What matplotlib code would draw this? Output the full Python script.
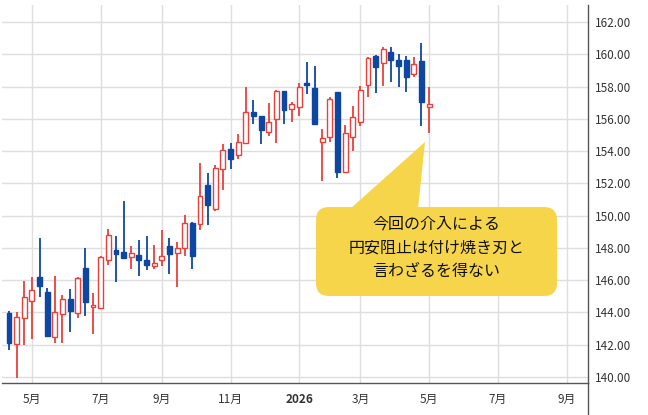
import matplotlib
matplotlib.use('Agg')
import matplotlib.pyplot as plt
from matplotlib.patches import FancyBboxPatch, Polygon
import numpy as np

plt.rcParams['font.family'] = ['Noto Sans CJK JP', 'DejaVu Sans']

# weekly USD/JPY candles (one per week)
opens = [143.94, 142.07, 143.63, 144.70, 146.22, 145.28, 142.49, 143.88, 144.83, 143.98,
         146.74, 144.31, 144.25, 147.24, 147.90, 147.77, 147.42, 147.53, 147.24, 146.87,
         147.22, 148.14, 147.66, 147.97, 149.54, 149.48, 151.90, 150.41, 152.90, 154.10,
         153.77, 154.49, 156.39, 156.18, 155.21, 155.98, 157.73, 156.60, 156.74, 158.19,
         157.88, 154.59, 154.90, 157.63, 152.71, 154.90, 155.77, 158.08, 159.90, 159.43,
         160.15, 159.65, 159.65, 158.76, 159.59, 156.76]
highs = [144.10, 144.04, 145.95, 146.18, 148.60, 145.49, 146.26, 145.08, 145.43, 146.22,
         147.98, 145.22, 147.50, 149.20, 148.72, 150.93, 148.10, 148.52, 148.76, 148.21,
         149.13, 148.62, 148.34, 150.04, 149.60, 153.27, 152.65, 153.15, 154.45, 154.51,
         155.05, 157.94, 157.15, 156.20, 156.95, 157.77, 157.75, 157.07, 158.19, 159.49,
         159.24, 155.36, 157.32, 157.65, 155.62, 156.80, 158.04, 159.80, 159.94, 160.42,
         160.42, 160.00, 159.86, 159.84, 160.69, 158.00]
lows = [141.66, 139.96, 141.97, 142.38, 144.93, 142.45, 142.13, 142.13, 142.80, 143.63,
        143.77, 142.69, 144.20, 146.93, 145.88, 147.34, 146.72, 146.25, 146.62, 146.72,
        146.87, 146.39, 145.55, 147.52, 146.69, 149.13, 149.42, 150.31, 151.61, 152.90,
        153.52, 154.49, 155.67, 154.43, 154.94, 154.47, 155.67, 155.77, 156.18, 157.52,
        155.60, 152.15, 154.57, 152.36, 152.67, 154.01, 155.56, 157.32, 157.57, 158.04,
        158.29, 157.94, 157.63, 158.62, 155.56, 155.09]
closes = [142.13, 143.69, 144.93, 145.39, 145.64, 142.55, 144.04, 144.81, 144.10, 146.16,
          144.66, 144.48, 147.44, 148.82, 147.64, 147.40, 147.69, 147.22, 146.93, 147.07,
          147.48, 147.63, 147.97, 149.54, 147.47, 151.22, 150.66, 152.98, 154.04, 153.48,
          154.55, 156.39, 156.18, 155.29, 155.81, 157.73, 156.53, 156.90, 157.98, 158.10,
          155.67, 154.80, 157.21, 152.71, 155.09, 156.08, 157.77, 159.74, 159.22, 160.31,
          159.63, 159.28, 158.62, 159.38, 157.05, 156.90]

# week index of the first bar of each month on the axis
month_pos = [3, 12, 20, 29, 38, 46, 55, 64, 73]
month_labels = ['5月', '7月', '9月', '11月', '2026', '3月', '5月', '7月', '9月']

y_ticks = np.arange(140, 163, 2)

up_col = '#E8403A'
down_col = '#0D47A1'
grid_col = '#DEDEDE'
text_col = '#333333'

fig = plt.figure(figsize=(6.48, 4.15), dpi=100)
ax = fig.add_axes([2 / 648, 32 / 415, 586 / 648, 378 / 415])

x = np.arange(len(opens))
o = np.array(opens)
c = np.array(closes)
up = c >= o
colors = np.where(up, up_col, down_col)

ax.vlines(x, lows, highs, colors=colors, linewidth=1.3, zorder=2)
bottoms = np.minimum(o, c)
heights = np.maximum(np.abs(c - o), 0.06)
ax.bar(x[up], heights[up], bottom=bottoms[up], width=0.64,
       facecolor='white', edgecolor=up_col, linewidth=1.0, zorder=3)
ax.bar(x[~up], heights[~up], bottom=bottoms[~up], width=0.64,
       facecolor=down_col, edgecolor=down_col, linewidth=1.0, zorder=3)

ax.set_xlim(-0.92, 75.8)
ax.set_ylim(139.63, 163.05)

ax.yaxis.tick_right()
ax.set_yticks(y_ticks)
ax.set_yticklabels(['%.2f' % v for v in y_ticks])
ax.set_xticks(month_pos)
ax.set_xticklabels(month_labels)
for lab in ax.get_xticklabels():
    if lab.get_text() == '2026':
        lab.set_fontweight('bold')
ax.tick_params(axis='y', length=0, pad=5, labelsize=8.5, labelcolor=text_col)
ax.tick_params(axis='x', length=0, pad=7, labelsize=8.5, labelcolor=text_col)
ax.grid(True, color=grid_col, linewidth=1.0, zorder=0)
ax.set_axisbelow(True)

for s in ['top', 'left']:
    ax.spines[s].set_visible(False)
ax.spines['bottom'].set_color('#555555')
ax.spines['right'].set_color('#555555')
ax.spines['bottom'].set_linewidth(1.0)
ax.spines['right'].set_linewidth(1.0)

# right axis divider continues down through the date row
fig.add_artist(plt.Line2D([588 / 648, 588 / 648], [0, 32 / 415],
                          transform=fig.transFigure, color='#555555', linewidth=1.0))

# callout bubble
yellow = '#F6D54B'
tr = fig.dpi_scale_trans
box = FancyBboxPatch((3.16, 1.19), 2.41, 0.89,
                     boxstyle='round,pad=0,rounding_size=0.13',
                     transform=tr, facecolor=yellow, edgecolor='none', zorder=5)
fig.add_artist(box)
tri = Polygon([(3.50, 2.06), (4.18, 2.06), (4.25, 2.73)], closed=True,
              transform=tr, facecolor=yellow, edgecolor='none', zorder=5)
fig.add_artist(tri)
fig.text(4.365 / 6.48, 1.67 / 4.15, '今回の介入による\n円安阻止は付け焼き刃と\n言わざるを得ない',
         ha='center', va='center', fontsize=11.5, linespacing=1.5, color='#111111', zorder=6)

fig.savefig('out.png', dpi=100)
